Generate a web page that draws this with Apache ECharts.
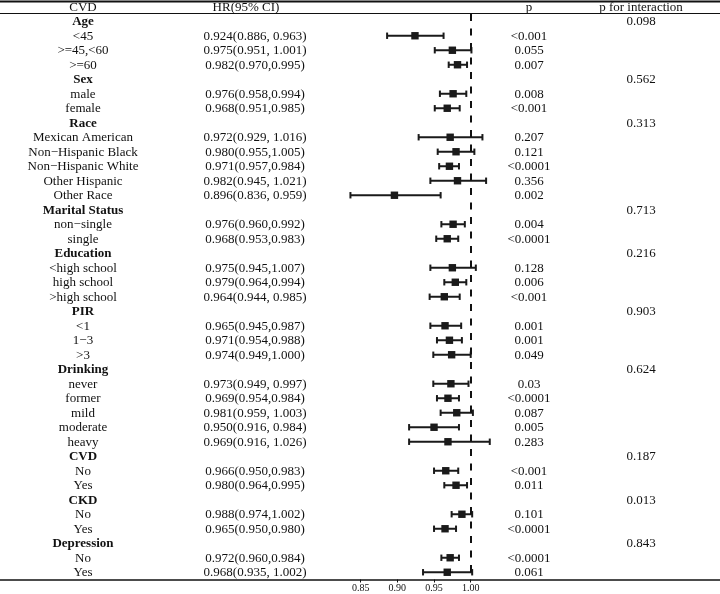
<!DOCTYPE html>
<html><head><meta charset="utf-8">
<script src="https://cdn.jsdelivr.net/npm/echarts@6/dist/echarts.min.js"></script>
<style>html,body{margin:0;padding:0;background:#fff}#c{width:720px;height:594px}</style>
</head><body><div id="c"></div>
<script>
const labels = ["Age","<45",">=45,<60",">=60","Sex","male","female","Race","Mexican American","Non\u2212Hispanic Black","Non\u2212Hispanic White","Other Hispanic","Other Race","Marital Status","non\u2212single","single","Education","<high school","high school",">high school","PIR","<1","1\u22123",">3","Drinking","never","former","mild","moderate","heavy","CVD","No","Yes","CKD","No","Yes","Depression","No","Yes"];
const hr = [null,0.924,0.975,0.982,null,0.976,0.968,null,0.972,0.980,0.971,0.982,0.896,null,0.976,0.968,null,0.975,0.979,0.964,null,0.965,0.971,0.974,null,0.973,0.969,0.981,0.950,0.969,null,0.966,0.980,null,0.988,0.965,null,0.972,0.968];
const lower = [null,0.886,0.951,0.970,null,0.958,0.951,null,0.929,0.955,0.957,0.945,0.836,null,0.960,0.953,null,0.945,0.964,0.944,null,0.945,0.954,0.949,null,0.949,0.954,0.959,0.916,0.916,null,0.950,0.964,null,0.974,0.950,null,0.960,0.935];
const upper = [null,0.963,1.001,0.995,null,0.994,0.985,null,1.016,1.005,0.984,1.021,0.959,null,0.992,0.983,null,1.007,0.994,0.985,null,0.987,0.988,1.000,null,0.997,0.984,1.003,0.984,1.026,null,0.983,0.995,null,1.002,0.980,null,0.984,1.002];
const hrText = ["","0.924(0.886, 0.963)","0.975(0.951, 1.001)","0.982(0.970,0.995)","","0.976(0.958,0.994)","0.968(0.951,0.985)","","0.972(0.929, 1.016)","0.980(0.955,1.005)","0.971(0.957,0.984)","0.982(0.945, 1.021)","0.896(0.836, 0.959)","","0.976(0.960,0.992)","0.968(0.953,0.983)","","0.975(0.945,1.007)","0.979(0.964,0.994)","0.964(0.944, 0.985)","","0.965(0.945,0.987)","0.971(0.954,0.988)","0.974(0.949,1.000)","","0.973(0.949, 0.997)","0.969(0.954,0.984)","0.981(0.959, 1.003)","0.950(0.916, 0.984)","0.969(0.916, 1.026)","","0.966(0.950,0.983)","0.980(0.964,0.995)","","0.988(0.974,1.002)","0.965(0.950,0.980)","","0.972(0.960,0.984)","0.968(0.935, 1.002)"];
const pText = ["","<0.001","0.055","0.007","","0.008","<0.001","","0.207","0.121","<0.0001","0.356","0.002","","0.004","<0.0001","","0.128","0.006","<0.001","","0.001","0.001","0.049","","0.03","<0.0001","0.087","0.005","0.283","","<0.001","0.011","","0.101","<0.0001","","<0.0001","0.061"];
const pInter = ["0.098","","","","0.562","","","0.313","","","","","","0.713","","","0.216","","","","0.903","","","","0.624","","","","","","0.187","","","0.013","","","0.843","",""];
const headers = ["CVD","HR(95% CI)","p","p for interaction"];
const xTicks = [0.85, 0.90, 0.95, 1.00];
const refValue = 1;

const FONT = '"Liberation Serif","Times New Roman",serif';
const INK = '#111';
const colX = [83, 255, 529, 641];
const headerX = [83, 246, 529, 641];

const chart = echarts.init(document.getElementById('c'));
const rowNames = labels.map((_, i) => 'r' + i);
const textData = labels.map((_, i) => [refValue, rowNames[i], i]);
const forestData = [];
hr.forEach((v, i) => { if (v !== null) forestData.push([v, rowNames[i], lower[i], upper[i]]); });

chart.setOption({
  animation: false,
  backgroundColor: '#fff',
  grid: { left: 0, right: 0, top: 14, bottom: 14.5, containLabel: false },
  xAxis: {
    type: 'value', min: 1 - 470.7 / 733.3, max: 1 + 249.3 / 733.3,
    splitLine: { show: false },
    axisLine: { show: true, onZero: false, lineStyle: { color: INK, width: 1.5 } },
    axisTick: { show: true, customValues: xTicks, length: 3, lineStyle: { color: INK, width: 1 } },
    axisLabel: { customValues: xTicks, formatter: v => v.toFixed(2), fontFamily: FONT, fontSize: 10, color: INK, margin: 4 }
  },
  yAxis: {
    type: 'category', inverse: true, data: rowNames,
    axisLine: { show: false }, axisTick: { show: false }, axisLabel: { show: false }, splitLine: { show: false }
  },
  graphic: [
    { type: 'line', shape: { x1: 0, y1: 1.5, x2: 720, y2: 1.5 }, style: { stroke: INK, lineWidth: 2 } },
    { type: 'line', shape: { x1: 0, y1: 13.5, x2: 720, y2: 13.5 }, style: { stroke: INK, lineWidth: 1 } }
  ].concat(headers.map((h, k) => ({
    type: 'text', x: headerX[k], y: 7.5,
    style: { text: h, fontFamily: FONT, fontSize: 13, fill: INK, align: 'center', verticalAlign: 'middle' }
  }))),
  series: [
    {
      type: 'scatter', data: [], symbolSize: 0, silent: true,
      markLine: {
        silent: true, symbol: ['none', 'none'], label: { show: false },
        lineStyle: { color: '#111', width: 2, type: [7, 7.5] },
        data: [{ xAxis: refValue }]
      }
    },
    {
      type: 'custom',
      data: textData,
      dimensions: ['x', 'row', 'idx'],
      encode: { x: 0, y: 1 },
      silent: true,
      renderItem: function (params, api) {
        const i = params.dataIndex;
        const y = api.coord([refValue, api.value(1)])[1] + 0.5;
        const isGroup = hr[i] === null;
        const cols = [labels[i], hrText[i], pText[i], pInter[i]];
        return {
          type: 'group',
          children: cols.map((t, k) => ({
            type: 'text', x: colX[k], y: y,
            style: { text: t, fontFamily: FONT, fontSize: 13, fontWeight: (k === 0 && isGroup) ? 'bold' : 'normal', fill: INK, align: 'center', verticalAlign: 'middle' }
          }))
        };
      }
    },
    {
      type: 'custom',
      data: forestData,
      dimensions: ['hr', 'row', 'lo', 'hi'],
      encode: { x: [0, 2, 3], y: 1 },
      silent: true,
      renderItem: function (params, api) {
        const row = api.value(1);
        const pm = api.coord([api.value(0), row]);
        const y = pm[1], xm = pm[0];
        const xl = api.coord([api.value(2), row])[0];
        const xh = api.coord([api.value(3), row])[0];
        const st = { stroke: '#1a1a1a', lineWidth: 2 };
        return {
          type: 'group',
          children: [
            { type: 'line', shape: { x1: xl, y1: y, x2: xh, y2: y }, style: st },
            { type: 'line', shape: { x1: xl, y1: y - 3.2, x2: xl, y2: y + 3.2 }, style: st },
            { type: 'line', shape: { x1: xh, y1: y - 3.2, x2: xh, y2: y + 3.2 }, style: st },
            { type: 'rect', shape: { x: xm - 3.7, y: y - 3.7, width: 7.4, height: 7.4 }, style: { fill: '#1a1a1a' } }
          ]
        };
      }
    }
  ]
});
</script></body></html>
